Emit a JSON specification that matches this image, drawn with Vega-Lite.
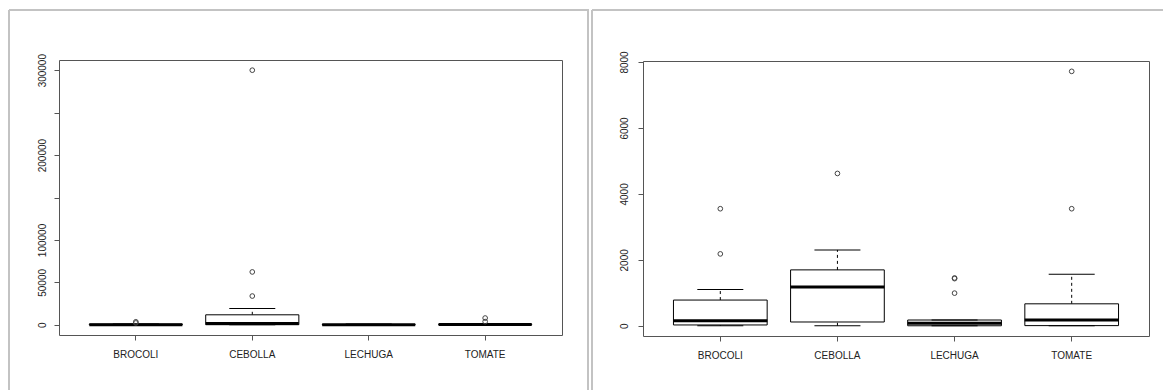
{
  "$schema": "https://vega.github.io/schema/vega-lite/v6.json",
  "usermeta": {"embedOptions": {"actions": false}},
  "autosize": {"type": "pad"},
  "padding": {"left": 8, "top": 9, "right": 0, "bottom": 0},
  "bounds": "flush",
  "spacing": 4,
  "background": "white",
  "config": {
    "axis": {"labelFont": "Liberation Sans", "labelFontSize": 10, "labelColor": "#222", "tickColor": "#555", "domainColor": "#555", "tickSize": 5, "grid": false, "title": null},
    "tick": {"opacity": 1},
    "point": {"opacity": 1}
  },
  "datasets": {
    "left_box": [
      {"cat": "BROCOLI", "lower": 0, "q1": 20, "median": 150, "q3": 780, "upper": 1100},
      {"cat": "CEBOLLA", "lower": 0, "q1": 150, "median": 1500, "q3": 11800, "upper": 19300},
      {"cat": "LECHUGA", "lower": 0, "q1": 0, "median": 100, "q3": 400, "upper": 1000},
      {"cat": "TOMATE", "lower": 0, "q1": 50, "median": 300, "q3": 800, "upper": 1600}
    ],
    "left_out": [
      {"cat": "BROCOLI", "value": 2200},
      {"cat": "BROCOLI", "value": 3550},
      {"cat": "CEBOLLA", "value": 33900},
      {"cat": "CEBOLLA", "value": 62300},
      {"cat": "CEBOLLA", "value": 300000},
      {"cat": "TOMATE", "value": 3800},
      {"cat": "TOMATE", "value": 8000}
    ],
    "right_box": [
      {"cat": "BROCOLI", "lower": 0, "q1": 25, "median": 150, "q3": 780, "upper": 1100},
      {"cat": "CEBOLLA", "lower": 0, "q1": 115, "median": 1175, "q3": 1695, "upper": 2300},
      {"cat": "LECHUGA", "lower": 0, "q1": 0, "median": 75, "q3": 175, "upper": 175},
      {"cat": "TOMATE", "lower": 0, "q1": 5, "median": 172, "q3": 666, "upper": 1564}
    ],
    "right_out": [
      {"cat": "BROCOLI", "value": 2180},
      {"cat": "BROCOLI", "value": 3550},
      {"cat": "CEBOLLA", "value": 4620},
      {"cat": "LECHUGA", "value": 990},
      {"cat": "LECHUGA", "value": 1430},
      {"cat": "LECHUGA", "value": 1450},
      {"cat": "TOMATE", "value": 3550},
      {"cat": "TOMATE", "value": 7716}
    ]
  },
  "hconcat": [
    {
      "width": 579,
      "height": 380,
      "view": {"stroke": "#c3c3c3", "strokeWidth": 2, "strokeDash": [959, 579, 380, 0]},
      "resolve": {"axis": {"x": "independent", "y": "independent"}},
      "layer": [
        {
          "data": {"name": "left_box"},
          "mark": {"type": "rule", "color": "black", "strokeWidth": 1, "strokeDash": [3, 3]},
          "encoding": {
            "x": {"field": "cat", "type": "nominal", "axis": null, "scale": {"type": "band", "domain": ["BROCOLI", "CEBOLLA", "LECHUGA", "TOMATE"], "range": [50, 553], "paddingInner": 0, "paddingOuter": 0.16}},
            "y": {"field": "q3", "type": "quantitative", "axis": null, "scale": {"domain": [-12000, 312000], "range": [325, 50], "nice": false, "zero": false}},
            "y2": {"field": "upper"}
          }
        },
        {
          "data": {"name": "left_box"},
          "mark": {"type": "rule", "color": "black", "strokeWidth": 1, "strokeDash": [3, 3]},
          "encoding": {
            "x": {"field": "cat", "type": "nominal", "axis": null},
            "y": {"field": "lower", "type": "quantitative", "axis": null},
            "y2": {"field": "q1"}
          }
        },
        {
          "data": {"name": "left_box"},
          "mark": {"type": "bar", "fill": "white", "stroke": "black", "strokeWidth": 1, "width": {"band": 0.8}},
          "encoding": {
            "x": {"field": "cat", "type": "nominal", "axis": {"orient": "bottom", "offset": -55, "labelPadding": 9, "labelAngle": 0, "domain": true}},
            "y": {"field": "q1", "type": "quantitative", "axis": {"orient": "left", "offset": -50, "values": [0, 50000, 100000, 150000, 200000, 250000, 300000], "format": "d", "labelExpr": "datum.value == 150000 || datum.value == 250000 ? '' : datum.label", "labelAngle": -90, "labelAlign": "center", "labelBaseline": "bottom", "labelPadding": 7, "domain": true}},
            "y2": {"field": "q3"}
          }
        },
        {
          "data": {"name": "left_box"},
          "mark": {"type": "tick", "color": "black", "opacity": 1, "size": 46, "thickness": 1},
          "encoding": {
            "x": {"field": "cat", "type": "nominal", "axis": null},
            "y": {"field": "upper", "type": "quantitative", "axis": null}
          }
        },
        {
          "data": {"name": "left_box"},
          "mark": {"type": "tick", "color": "black", "opacity": 1, "size": 46, "thickness": 1},
          "encoding": {
            "x": {"field": "cat", "type": "nominal", "axis": null},
            "y": {"field": "lower", "type": "quantitative", "axis": null}
          }
        },
        {
          "data": {"name": "left_box"},
          "mark": {"type": "tick", "color": "black", "opacity": 1, "size": 93, "thickness": 3},
          "encoding": {
            "x": {"field": "cat", "type": "nominal", "axis": null},
            "y": {"field": "median", "type": "quantitative", "axis": null}
          }
        },
        {
          "data": {"name": "left_out"},
          "mark": {"type": "point", "shape": "circle", "filled": false, "opacity": 1, "size": 22, "color": "#444", "strokeWidth": 1},
          "encoding": {
            "x": {"field": "cat", "type": "nominal", "axis": {"orient": "top", "offset": -50, "ticks": false, "labels": false, "domain": true}},
            "y": {"field": "value", "type": "quantitative", "axis": {"orient": "right", "offset": -26, "ticks": false, "labels": false, "domain": true}}
          }
        }
      ]
    },
    {
      "width": 571,
      "height": 380,
      "view": {"stroke": "#c3c3c3", "strokeWidth": 2, "strokeDash": [571, 951, 380, 0]},
      "resolve": {"axis": {"x": "independent", "y": "independent"}},
      "layer": [
        {
          "data": {"name": "right_box"},
          "mark": {"type": "rule", "color": "black", "strokeWidth": 1, "strokeDash": [3, 3]},
          "encoding": {
            "x": {"field": "cat", "type": "nominal", "axis": null, "scale": {"type": "band", "domain": ["BROCOLI", "CEBOLLA", "LECHUGA", "TOMATE"], "range": [51, 557], "paddingInner": 0, "paddingOuter": 0.16}},
            "y": {"field": "q3", "type": "quantitative", "axis": null, "scale": {"domain": [-310, 8030], "range": [326, 51], "nice": false, "zero": false}},
            "y2": {"field": "upper"}
          }
        },
        {
          "data": {"name": "right_box"},
          "mark": {"type": "rule", "color": "black", "strokeWidth": 1, "strokeDash": [3, 3]},
          "encoding": {
            "x": {"field": "cat", "type": "nominal", "axis": null},
            "y": {"field": "lower", "type": "quantitative", "axis": null},
            "y2": {"field": "q1"}
          }
        },
        {
          "data": {"name": "right_box"},
          "mark": {"type": "bar", "fill": "white", "stroke": "black", "strokeWidth": 1, "width": {"band": 0.8}},
          "encoding": {
            "x": {"field": "cat", "type": "nominal", "axis": {"orient": "bottom", "offset": -54, "labelPadding": 9, "labelAngle": 0, "domain": true}},
            "y": {"field": "q1", "type": "quantitative", "axis": {"orient": "left", "offset": -51, "values": [0, 2000, 4000, 6000, 8000], "format": "d", "labelAngle": -90, "labelAlign": "center", "labelBaseline": "bottom", "labelPadding": 9, "domain": true}},
            "y2": {"field": "q3"}
          }
        },
        {
          "data": {"name": "right_box"},
          "mark": {"type": "tick", "color": "black", "opacity": 1, "size": 46, "thickness": 1},
          "encoding": {
            "x": {"field": "cat", "type": "nominal", "axis": null},
            "y": {"field": "upper", "type": "quantitative", "axis": null}
          }
        },
        {
          "data": {"name": "right_box"},
          "mark": {"type": "tick", "color": "black", "opacity": 1, "size": 46, "thickness": 1},
          "encoding": {
            "x": {"field": "cat", "type": "nominal", "axis": null},
            "y": {"field": "lower", "type": "quantitative", "axis": null}
          }
        },
        {
          "data": {"name": "right_box"},
          "mark": {"type": "tick", "color": "black", "opacity": 1, "size": 94, "thickness": 3},
          "encoding": {
            "x": {"field": "cat", "type": "nominal", "axis": null},
            "y": {"field": "median", "type": "quantitative", "axis": null}
          }
        },
        {
          "data": {"name": "right_out"},
          "mark": {"type": "point", "shape": "circle", "filled": false, "opacity": 1, "size": 22, "color": "#444", "strokeWidth": 1},
          "encoding": {
            "x": {"field": "cat", "type": "nominal", "axis": {"orient": "top", "offset": -51, "ticks": false, "labels": false, "domain": true}},
            "y": {"field": "value", "type": "quantitative", "axis": {"orient": "right", "offset": -14, "ticks": false, "labels": false, "domain": true}}
          }
        }
      ]
    }
  ]
}
